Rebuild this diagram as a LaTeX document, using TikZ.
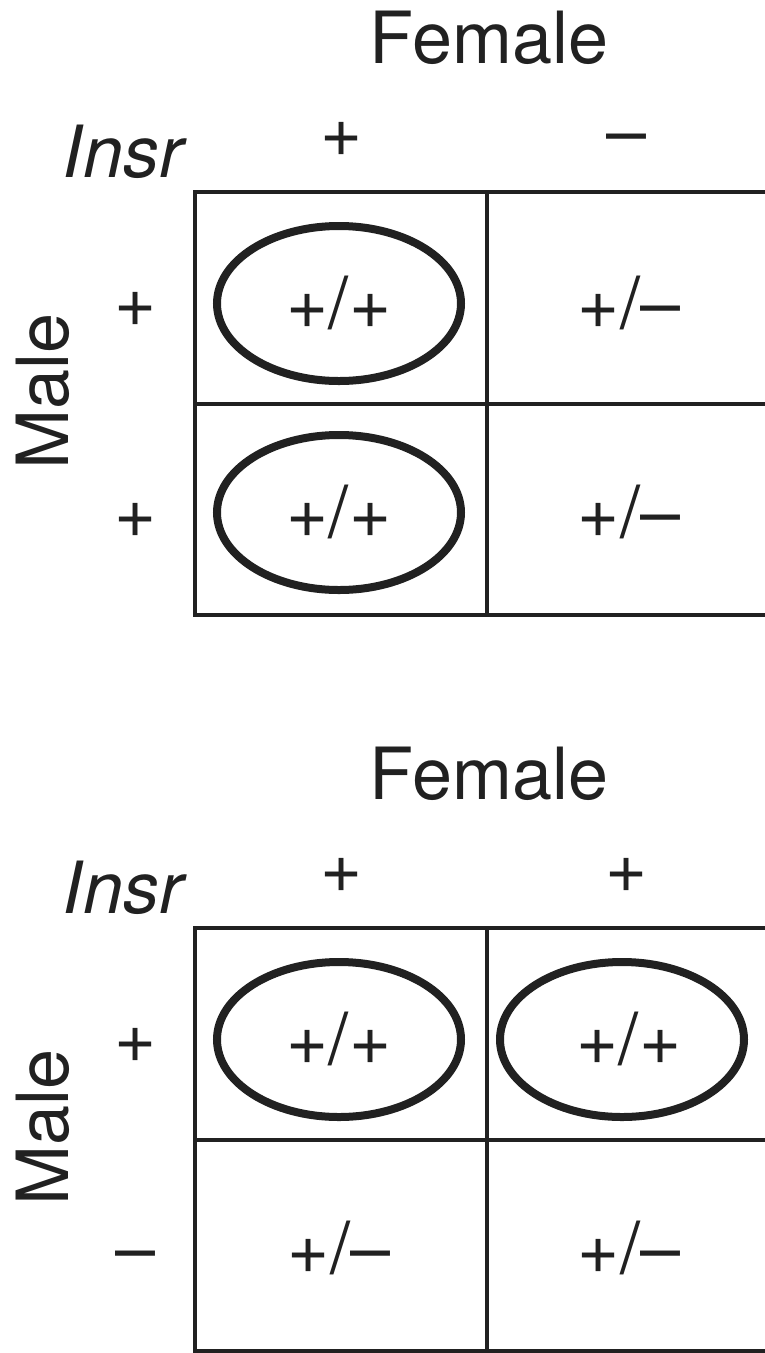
\documentclass[tikz,border=0pt]{standalone}
\usepackage{fontspec}
\setmainfont{TeX Gyre Heros}
\usetikzlibrary{shapes.geometric}
\newcommand{\plg}{+}
\begin{document}
\begin{tikzpicture}[x=1pt,y=-1pt,
  ink/.style={text=black!87},
  grid/.style={line width=4.2pt, draw=black!87},
  oval/.style={draw=black!87, ellipse, line width=8pt, minimum width=244pt, minimum height=155pt, inner sep=0pt},
  txt/.style={ink, font=\fontsize{72}{74}\selectfont, inner sep=0pt, anchor=base},
  insr/.style={txt, font=\fontsize{72}{74}\selectfont\itshape}]
\useasboundingbox (0,0) rectangle (765,1353);
% ---------- top panel ----------
\node[txt] (f1) at (489,63) {Female};
\node[insr] (i1) at (123,177) {Insr};
\node[txt] (c11) at (342,156) {\plg};
\node[txt] (c12) at (627,156) {–};
\node[txt] (r11) at (136,326) {\plg};
\node[txt] (r12) at (136,537) {\plg};
\node[txt, rotate=90] (m1) at (68,391) {Male};
\draw[grid] (765,192) -- (195,192) -- (195,615) -- (765,615);
\draw[grid] (487,192) -- (487,615);
\draw[grid] (195,404) -- (765,404);
\node[oval] (e11) at (339,303.5) {};
\node[oval] (e12) at (339,512.5) {};
\node[txt] (g11) at (339,328) {\plg/\plg};
\node[txt] (g12) at (339,537) {\plg/\plg};
\node[txt] (g13) at (629,328) {\plg/–};
\node[txt] (g14) at (629,537) {\plg/–};
% ---------- bottom panel ----------
\begin{scope}[yshift=-736pt]
\node[txt] (f2) at (489,63) {Female};
\node[insr] (i2) at (123,177) {Insr};
\node[txt] (c21) at (342,156) {\plg};
\node[txt] (c22) at (627,156) {\plg};
\node[txt] (r21) at (136,326) {\plg};
\node[txt] (r22) at (136,537) {–};
\node[txt, rotate=90] (m2) at (68,391) {Male};
\draw[grid] (765,192) -- (195,192) -- (195,615) -- (765,615);
\draw[grid] (487,192) -- (487,615);
\draw[grid] (195,404) -- (765,404);
\node[oval] (e21) at (339,303.5) {};
\node[oval] (e22) at (622,303.5) {};
\node[txt] (g21) at (339,328) {\plg/\plg};
\node[txt] (g22) at (629,328) {\plg/\plg};
\node[txt] (g23) at (339,537) {\plg/–};
\node[txt] (g24) at (629,537) {\plg/–};
\end{scope}
\end{tikzpicture}
\end{document}
